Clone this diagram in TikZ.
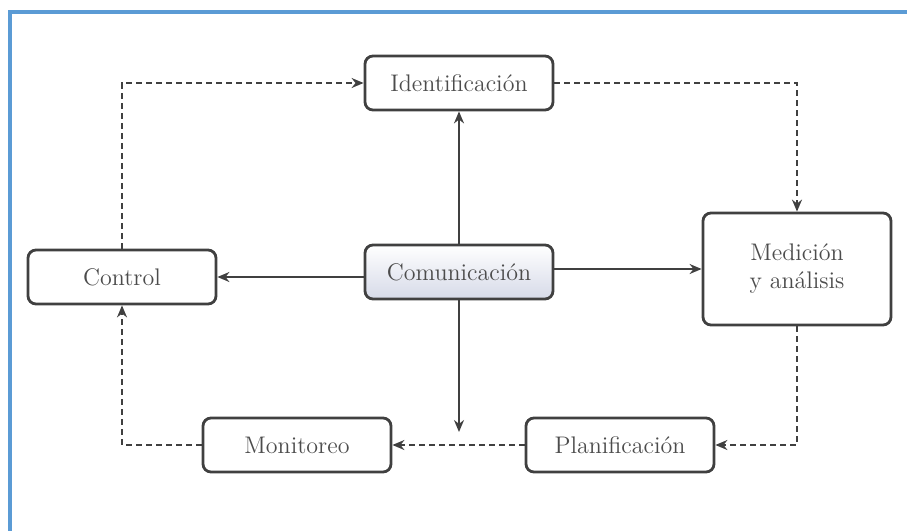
\documentclass[tikz,border=0pt]{standalone}
\usetikzlibrary{arrows.meta}
\definecolor{marco}{RGB}{91,155,213}
\definecolor{sombra}{RGB}{214,218,232}
\tikzset{
  caja/.style={draw=black!75, line width=1.4pt, rounded corners=4pt, fill=white,
    minimum width=94pt, minimum height=27pt, font=\large, text=black!70, align=center},
  flecha/.style={draw=black!75, line width=1pt, -{Stealth[length=6pt,width=5pt]}},
  ciclo/.style={flecha, dash pattern=on 3pt off 2pt},
}
\begin{document}
\begin{tikzpicture}[x=0.5pt, y=-0.5pt]
    \useasboundingbox (0,0) rectangle (907,531);
    \draw[line width=2pt, marco] (10,531) -- (10,12) -- (907,12);
    % cajas
    \node[caja] (ident) at (459,83) {Identificación};
    \node[caja, top color=white, bottom color=sombra] (comun) at (459,272) {Comunicación};
    \node[caja] (control) at (122,277) {Control};
    \node[caja, minimum height=56pt] (medic) at (797,269) {Medición\\y análisis};
    \node[caja] (monit) at (297,445) {Monitoreo};
    \node[caja] (plani) at (620,445) {Planificación};
    \coordinate (abajo) at (459,432);
    % comunicacion
    \draw[flecha] (comun) -- (ident);
    \draw[flecha] (comun.west |- control) -- (control);
    \draw[flecha] (comun.east |- medic) -- (medic);
    \draw[flecha] (comun) -- (abajo);
    % ciclo
    \draw[ciclo] (control.north) |- (ident.west);
    \draw[ciclo] (ident.east) -| (medic.north);
    \draw[ciclo] (medic.south) |- (plani.east);
    \draw[ciclo] (plani.west) -- (monit.east);
    \draw[ciclo] (monit.west) -| (control.south);
\end{tikzpicture}
\end{document}
